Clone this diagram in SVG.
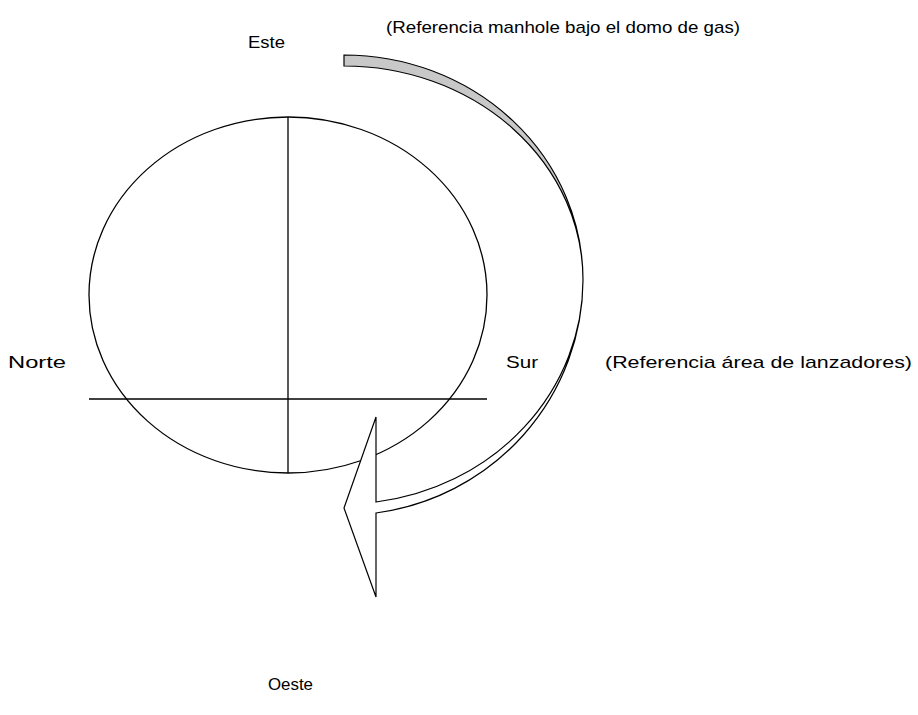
<svg xmlns="http://www.w3.org/2000/svg" width="918" height="715" viewBox="0 0 918 715">
<style>
text{font-family:"Liberation Sans",Arial,sans-serif;font-size:17px;fill:#000}
.ln{stroke:#000;stroke-width:1.3;fill:none}
.rib{stroke:#000;stroke-width:1.2;stroke-linejoin:miter}
</style>
<rect width="918" height="715" fill="#fff"/>
<g id="tank">
<ellipse cx="288" cy="295" rx="199" ry="178" class="ln"/>
<line x1="288" y1="117" x2="288" y2="473" class="ln"/>
<line x1="89" y1="399" x2="487" y2="399" class="ln"/>
</g>
<g id="connectors">
<path class="rib" fill="#c8c8c8" d="M344,55 A239,225 0 0 1 583,280 A239,214 0 0 0 344,66 Z"/>
<path class="rib" fill="#fff" d="M583,280 A239,236 0 0 1 376,513 L376,597 L344,508 L376,417 L376,502 A239,224 0 0 0 583,280 Z"/>
</g>
<g id="labels">
<text x="248" y="48" textLength="37" lengthAdjust="spacingAndGlyphs">Este</text>
<text x="386" y="33" textLength="354" lengthAdjust="spacingAndGlyphs">(Referencia manhole bajo el domo de gas)</text>
<text x="8" y="368" textLength="58" lengthAdjust="spacingAndGlyphs">Norte</text>
<text x="506" y="368" textLength="32" lengthAdjust="spacingAndGlyphs">Sur</text>
<text x="605" y="368" textLength="307" lengthAdjust="spacingAndGlyphs">(Referencia área de lanzadores)</text>
<text x="268" y="690" textLength="45" lengthAdjust="spacingAndGlyphs">Oeste</text>
</g>
</svg>
